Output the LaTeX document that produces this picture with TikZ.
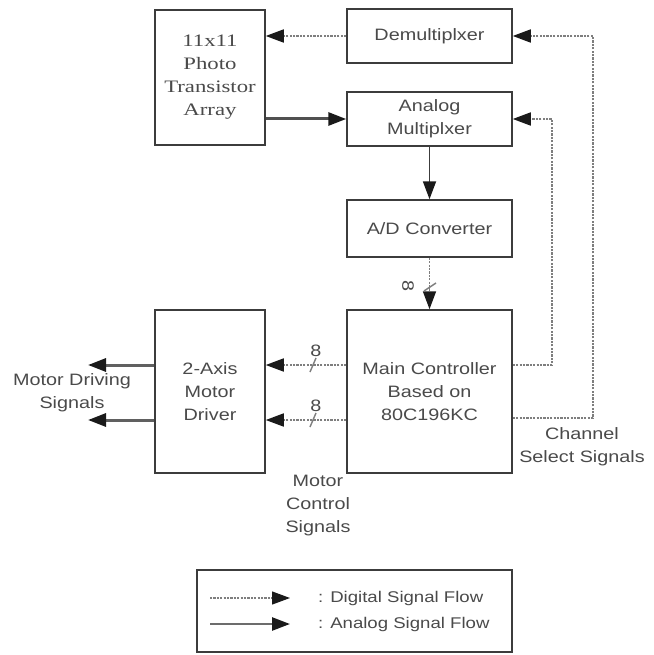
\documentclass[tikz,border=0pt]{standalone}
\usepackage{fontspec}
\usetikzlibrary{arrows.meta}
\newfontfamily\gulfont[FakeStretch=1.2]{Liberation Sans}
\newfontfamily\batfont[FakeStretch=1.3]{Liberation Serif}
\definecolor{boxline}{HTML}{3C3C3C}
\definecolor{txt}{HTML}{4A4A4A}
\definecolor{digi}{HTML}{7E7E7E}
\definecolor{anal}{HTML}{505050}
\definecolor{tipcol}{HTML}{1A1A1A}
\begin{document}
\begin{tikzpicture}[x=1pt,y=-1pt,
  font=\gulfont\fontsize{16.5}{23}\selectfont,
  blk/.style={draw=boxline,line width=1.5pt,fill=white,text=txt,align=center,
    inner sep=0pt,minimum width=165pt,minimum height=54pt},
  tip/.style={-{Triangle[length=18pt,width=13pt,color=tipcol]}},
  dig/.style={tip,draw=digi,line width=1.7pt,dash pattern=on 2.2pt off 1.2pt},
  ana/.style={tip,draw=anal,line width=3pt},
  anathin/.style={tip,draw=boxline,line width=1.8pt},
  drive/.style={tip,draw=gray!75!black,line width=3pt},
  lbl/.style={text=txt,align=center,inner sep=0pt},
  slash/.style={draw=digi,line width=1.4pt}]
\useasboundingbox (0,0) rectangle (653,655);

% blocks
\node[blk,minimum width=110pt,minimum height=135pt,
  font=\batfont\fontsize{17.5}{23}\selectfont] (arr) at (210,77.5)
  {11x11\\Photo\\Transistor\\Array};
\node[blk] (demux) at (429.5,36) {Demultiplxer};
\node[blk] (amux) at (429.5,119) {Analog\\Multiplxer};
\node[blk,minimum height=57pt] (adc) at (429.5,228.5) {A/D Converter};
\node[blk,minimum height=163pt] (main) at (429.5,391.5)
  {Main Controller\\Based on\\80C196KC};
\node[blk,minimum width=110pt,minimum height=163pt] (drv) at (210,391.5)
  {2-Axis\\Motor\\Driver};

% helper points
\coordinate (m1) at ([yshift=26.5pt]main.west);
\coordinate (m2) at ([yshift=-28.5pt]main.west);
\coordinate (c1) at ([yshift=26.5pt]main.east);
\coordinate (c2) at ([yshift=-26.5pt]main.east);
\coordinate (d1) at ([yshift=26.5pt]drv.west);
\coordinate (d2) at ([yshift=-28.5pt]drv.west);
\coordinate (o1) at (88,365);
\coordinate (o2) at (88,420);
\coordinate (r1) at (552,365);
\coordinate (r2) at (593,418);

% signal paths
\draw[dig] (demux.west) -- (demux.west -| arr.east);
\draw[ana] (amux.west -| arr.east) -- (amux.west);
\draw[anathin] (amux.south) -- (adc.north);
\draw[dig] (adc.south) -- (main.north);
\draw[dig] (m1) -- (m1 -| drv.east);
\draw[dig] (m2) -- (m2 -| drv.east);
\draw[drive] (d1) -- (o1);
\draw[drive] (d2) -- (o2);
\draw[dig] (c1) -- (r1) -- (r1 |- amux.east) -- (amux.east);
\draw[dig] (c2) -- (r2) -- (r2 |- demux.east) -- (demux.east);

% bus width marks
\draw[slash] (310,372) -- (316,358);
\node[lbl] (w1) at (316,351) {8};
\draw[slash] (310,427) -- (316,413);
\node[lbl] (w2) at (316,406) {8};
\draw[slash] (424,291) -- (436,283);
\node[lbl,rotate=-90] (w3) at (408,286) {8};

% labels
\node[lbl] (mds) at (72,393) {Motor Driving\\Signals};
\node[lbl] (mcs) at (318,506) {Motor\\Control\\Signals};
\node[lbl] (css) at (582,447) {Channel\\Select Signals};

% legend
\node[draw=boxline,line width=1.5pt,minimum width=315pt,minimum height=82pt,
  inner sep=0pt] (leg) at (354.5,611) {};
\coordinate (l1a) at (210,598);
\coordinate (l1b) at (290,598);
\coordinate (l2a) at (210,624);
\coordinate (l2b) at (290,624);
\draw[dig,line width=1.2pt] (l1a) -- (l1b);
\draw[drive,draw=gray!85!black,line width=2.5pt] (l2a) -- (l2b);
\node[lbl,anchor=west,font=\gulfont\fontsize{15.5}{20}\selectfont] (ld) at (318,598) {: Digital Signal Flow};
\node[lbl,anchor=west,font=\gulfont\fontsize{15.5}{20}\selectfont] (la) at (318,624) {: Analog Signal Flow};
\end{tikzpicture}
\end{document}
